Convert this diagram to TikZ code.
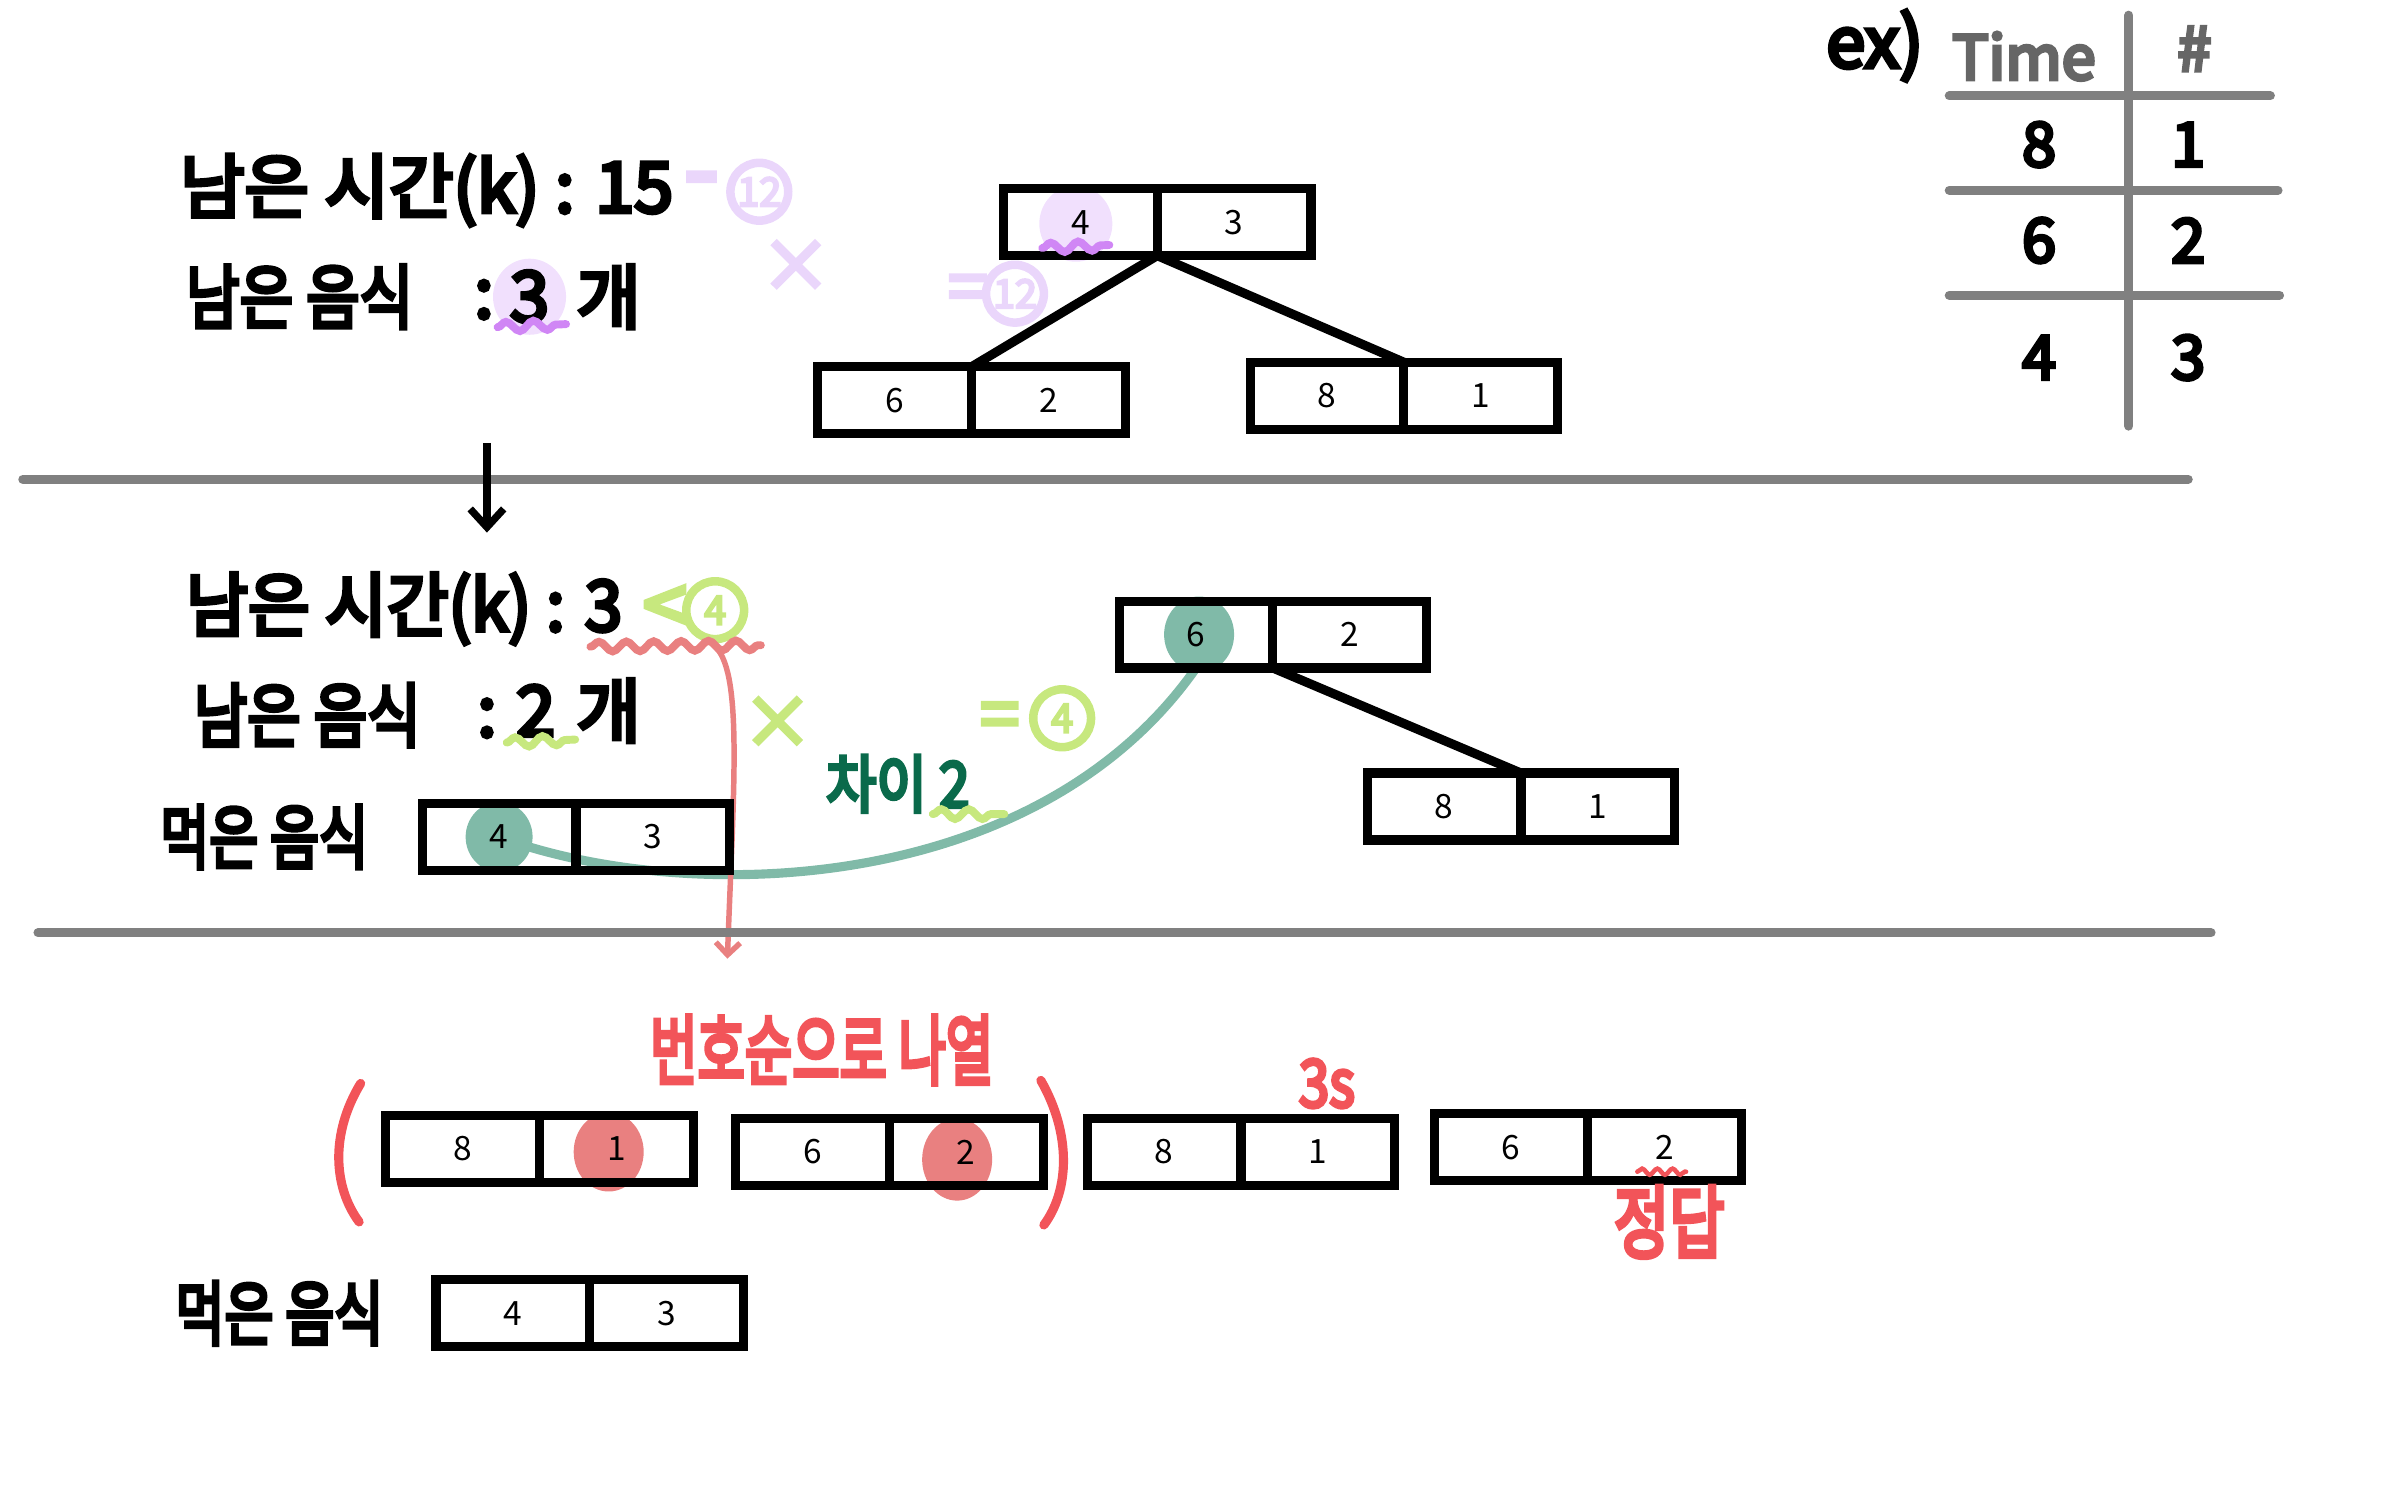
\documentclass[tikz,border=0pt]{standalone}
\usepackage{fontspec}
\setmainfont{Noto Sans CJK KR}
\newfontfamily\hand[FakeBold=6]{Noto Sans CJK KR}
\usetikzlibrary{positioning,backgrounds,arrows.meta,decorations.pathmorphing}
\definecolor{Rule}{HTML}{808080}
\definecolor{Slate}{HTML}{666666}
\definecolor{Lilac}{HTML}{EAD6FB}
\definecolor{LilacSoft}{HTML}{F1E0FD}
\definecolor{Orchid}{HTML}{D086F5}
\definecolor{Lime}{HTML}{C7E87E}
\definecolor{Sea}{HTML}{80BAA8}
\definecolor{Pine}{HTML}{0A6A4B}
\definecolor{Coral}{HTML}{F25459}
\definecolor{Salmon}{HTML}{E98080}

\begin{document}
\begin{tikzpicture}[x=0.5pt,y=-0.5pt,
    cell/.style={draw,line width=3pt,minimum width=50.5pt,minimum height=22pt,inner sep=0pt,outer sep=0pt,font=\fontsize{11}{11}\selectfont},
    big/.style={inner sep=0pt,font=\hand\fontsize{23}{23}\selectfont},
    mid/.style={inner sep=0pt,font=\hand\fontsize{18}{18}\selectfont},
    tab/.style={inner sep=0pt,font=\hand\fontsize{20}{20}\selectfont},
    ring/.style={circle,draw,line width=2.8pt,inner sep=0pt,minimum size=19pt,font=\hand\fontsize{13}{13}\selectfont},
    wiggle/.style={decorate,decoration={snake,amplitude=1.6pt,segment length=9pt},line width=2.6pt,line cap=round},
    sep/.style={Rule,line width=3pt,line cap=round}]
  \useasboundingbox (0,0) rectangle (1568,980);

  \draw[sep] (15,315) -- (1438,315);
  \draw[sep] (25,613) -- (1453,613);

  \draw[sep] (1399,10) -- (1399,280);
  \foreach \y/\r in {63/1492,125/1497,194/1498}
    \draw[sep] (1281,\y) -- (\r,\y);
  \node[big] (ex) at (1232,30) {ex)};
  \node[tab,text=Slate] (time) at (1330,37) {Time};
  \node[tab,text=Slate] (count) at (1442,32) {\#};
  \foreach \y/\t/\c in {95/8/1,158/6/2,235/4/3}{
    \node[tab] (t\t) at (1340,\y) {\t};
    \node[tab] (c\c) at (1438,\y) {\c};
  }

  \foreach \nm/\x/\y/\a/\b in {r/710/146/4/3, p/588/263/6/2, q/872/260/8/1,
      m/786/417/6/2, n/949/530/8/1, e/328/550/4/3,
      s/304/755/8/1, t/534/757/6/2, u/765/757/8/1, v/993/754/6/2, f/337/863/4/3}
  {
    \node[cell] (\nm-l) at (\x,\y) {\a};
    \node[cell,right=0pt of \nm-l] (\nm-r) {\b};
  }
  \draw[line width=3pt] (r-l.south east) -- (p-l.north east);
  \draw[line width=3pt] (r-l.south east) -- (q-l.north east);
  \draw[line width=3pt] (m-l.south east) -- (n-l.north east);

  \node[big,anchor=west] (left1) at (118,125) {남은 시간(k) : 15};
  \node[big,text=Lilac,font=\hand\fontsize{32}{32}\selectfont] (minus) at (461,124) {-};
  \node[ring,Lilac] (twelveA) at (499,126) {12};
  \node[big,text=Lilac] (timesA) at (523,175) {×};
  \node[big,anchor=west] (food1) at (122,195) {\scalebox{0.83}[1]{남은 음식}};
  \node[big] (colon1) at (318,197) {:};
  \node[big] (cnt1) at (348,195) {3};
  \node[big] (unit1) at (400,195) {개};
  \node[big,text=Lilac] (eqA) at (636,193) {=};
  \node[ring,Lilac] (twelveB) at (667,193) {12};

  \coordinate (down1) at (320,291);
  \coordinate (down2) at (320,350);
  \draw[line width=2.4pt,-{Straight Barb[length=6pt,width=11pt]}] (down1) -- (down2);

  \node[big,anchor=west] (left2) at (122,400) {\scalebox{0.96}[1]{남은 시간(k) : 3}};
  \node[big,text=Lime,font=\hand\fontsize{26}{26}\selectfont] (less) at (437,401) {<};
  \node[ring,Lime] (fourA) at (470,401) {4};
  \node[big,anchor=west] (food2) at (127,470) {\scalebox{0.83}[1]{남은 음식}};
  \node[big] (colon2) at (320,472) {:};
  \node[big] (cnt2) at (352,467) {2};
  \node[big] (unit2) at (400,467) {개};
  \node[big,anchor=west] (ate1) at (105,550) {\scalebox{0.76}[1]{먹은 음식}};
  \node[big,text=Lime] (timesB) at (511,475) {×};
  \node[big,text=Lime] (eqB) at (657,474) {=};
  \node[ring,Lime] (fourB) at (698,472) {4};
  \node[mid,text=Pine] (gap) at (590,515) {\scalebox{1}[1.15]{차이 2}};

  \node[mid,text=Coral] (order) at (540,690) {\scalebox{0.94}[1.4]{번호순으로 나열}};
  \node[mid,text=Coral] (secs) at (872,712) {\scalebox{1}[1.2]{3s}};
  \node[mid,text=Coral] (answer) at (1097,803) {\scalebox{1.1}[1.45]{정답}};
  \node[big,anchor=west] (ate2) at (115,863) {\scalebox{0.76}[1]{먹은 음식}};
  \draw[Coral,line width=3pt,line cap=round] (237,712) .. controls (217,745) and (219,780) .. (236,803);
  \draw[Coral,line width=3pt,line cap=round] (684,710) .. controls (704,745) and (703,782) .. (686,805);

  \coordinate (wavy) at (471,426);
  \coordinate (drop) at (478,630);
  \begin{scope}[on background layer]
    \fill[LilacSoft] (707,147) ellipse (24 and 25);
    \fill[LilacSoft] (cnt1.center) ellipse (24 and 25);
    \fill[Sea] (788,417) ellipse (23 and 25);
    \fill[Sea] (e-l.center) ellipse (22 and 23);
    \fill[Salmon] (400,757) ellipse (23 and 26);
    \fill[Salmon] (629,762) ellipse (23 and 27);
    \draw[Sea,line width=3pt] (e-l.center) .. controls (450,595) and (680,590) .. (m-l.south);
    \draw[Salmon,line width=1.8pt,-{Straight Barb[length=4pt,width=8pt]}] (wavy) .. controls (488,445) and (482,520) .. (drop);
  \end{scope}

  \draw[wiggle,Orchid] (685,163) -- (729,161);
  \draw[wiggle,Orchid] (327,215) -- (372,213);
  \draw[wiggle,Salmon] (388,425) -- (500,424);
  \draw[wiggle,Lime] (333,488) -- (378,486);
  \draw[wiggle,Lime] (613,535) -- (660,535);
  \draw[wiggle,Coral,line width=1.5pt,decoration={snake,amplitude=1pt,segment length=5pt}] (1076,770) -- (1108,770);
\end{tikzpicture}
\end{document}
